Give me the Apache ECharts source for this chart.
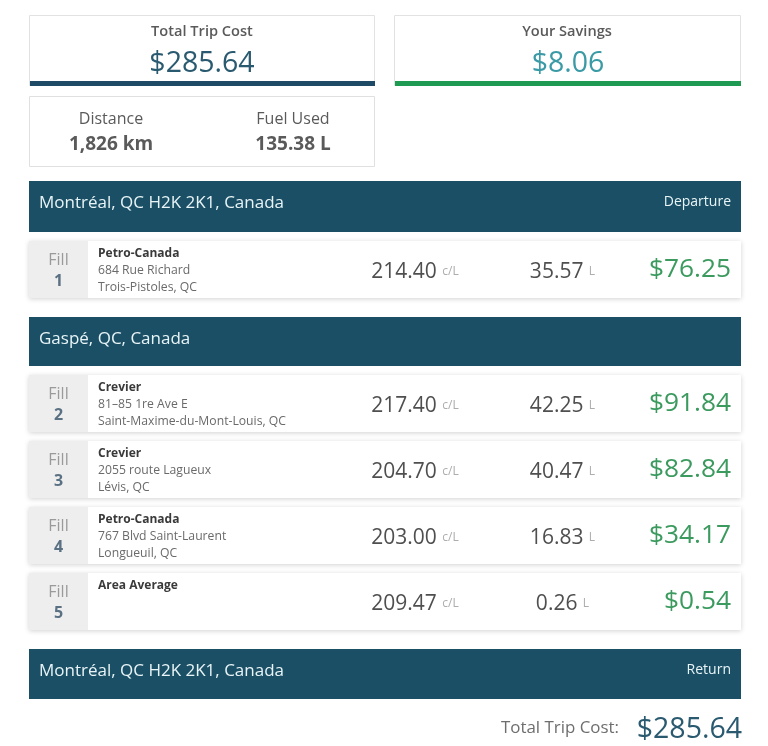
<!DOCTYPE html>
<html>
<head>
<meta charset="utf-8">
<style>html,body{margin:0;padding:0;background:#fff}#trip{width:768px;height:746px}</style>
<script src="https://cdn.jsdelivr.net/npm/echarts@6/dist/echarts.min.js"></script>
</head>
<body>
<div id="trip"></div>
<script>
var totalCost = '$285.64';
var savings = '$8.06';
var distance = '1,826 km';
var fuelUsed = '135.38 L';

var bannerNames = ['Montréal, QC H2K 2K1, Canada', 'Gaspé, QC, Canada', 'Montréal, QC H2K 2K1, Canada'];
var bannerTags = ['Departure', '', 'Return'];

var fillNumbers = ['1', '2', '3', '4', '5'];
var stationNames = ['Petro-Canada', 'Crevier', 'Crevier', 'Petro-Canada', 'Area Average'];
var stationStreets = ['684 Rue Richard', '81–85 1re Ave E', '2055 route Lagueux', '767 Blvd Saint-Laurent', ''];
var stationCities = ['Trois-Pistoles, QC', 'Saint-Maxime-du-Mont-Louis, QC', 'Lévis, QC', 'Longueuil, QC', ''];
var rates = ['214.40', '217.40', '204.70', '203.00', '209.47'];
var litres = ['35.57', '42.25', '40.47', '16.83', '0.26'];
var costs = ['$76.25', '$91.84', '$82.84', '$34.17', '$0.54'];

var bannerTops = [181, 317, 649];
var bannerHeights = [51, 49, 50];
var rowTops = [241, 375, 441, 507, 573];

var FONT = '"Open Sans", sans-serif';
var NAVY = '#1b4f66';
var GREY = '#5a5a5a';
var els = [];

function txt(text, x, y, size, fill, align, weight) {
    els.push({
        type: 'text',
        style: {
            text: text, x: x, y: y,
            fontFamily: FONT, fontSize: size, fontWeight: weight || 'normal',
            fill: fill, align: align || 'left', verticalAlign: 'middle'
        }
    });
}

function box(x, y, w, h, fill, stroke, shadow) {
    var style = { fill: fill };
    if (stroke) {
        style.stroke = stroke;
        style.lineWidth = 1;
    }
    if (shadow) {
        style.shadowBlur = 5;
        style.shadowOffsetY = 1;
        style.shadowColor = 'rgba(0,0,0,0.18)';
    }
    els.push({ type: 'rect', shape: { x: x, y: y, width: w, height: h }, style: style });
}

// valeur + unite, centres ensemble
function withUnit(value, unit, x, y) {
    els.push({
        type: 'text',
        style: {
            text: '{v|' + value + ' }{u|' + unit + '}',
            x: x, y: y, align: 'center', verticalAlign: 'middle',
            fontFamily: FONT,
            rich: {
                v: { fontFamily: FONT, fontSize: 21, fill: '#4f4f4f' },
                u: { fontFamily: FONT, fontSize: 12, fill: '#adadad' }
            }
        }
    });
}

// cartes du haut
box(29.5, 15.5, 345, 70, '#fff', '#e2e2e2');
box(30, 81, 345, 5, '#1f4a66');
txt('Total Trip Cost', 202, 32, 14.6, GREY, 'center', 600);
txt(totalCost, 202, 64, 28.5, '#2a5a70', 'center');

box(394.5, 15.5, 346, 70, '#fff', '#e2e2e2');
box(395, 81, 346, 5, '#1f9a53');
txt('Your Savings', 567, 32, 14.6, GREY, 'center', 600);
txt(savings, 568, 64, 28.5, '#3a9aa5', 'center');

box(29.5, 96.5, 345, 70, '#fff', '#e0e0e0');
txt('Distance', 111, 119, 16, GREY, 'center');
txt(distance, 111, 145, 19, GREY, 'center', 700);
txt('Fuel Used', 293, 119, 16, GREY, 'center');
txt(fuelUsed, 293, 145, 19, GREY, 'center', 700);

// bandeaux
bannerNames.forEach(function (name, i) {
    box(29, bannerTops[i], 712, bannerHeights[i], NAVY);
    txt(name, 39, bannerTops[i] + 22, 17, '#e8f4f6');
    if (bannerTags[i]) {
        txt(bannerTags[i], 731, bannerTops[i] + 21, 14, '#e8f4f6', 'right');
    }
});

// lignes de plein
fillNumbers.forEach(function (num, i) {
    var top = rowTops[i];
    box(29, top, 712, 57, '#fff', null, true);
    box(29, top, 59, 57, '#eeeeee');
    txt('Fill', 58.5, top + 19, 16, '#9a9a9a', 'center');
    txt(num, 58.5, top + 40, 16, '#5a7184', 'center', 700);
    txt(stationNames[i], 98, top + 13, 12, '#3a3a3a', 'left', 700);
    txt(stationStreets[i], 98, top + 30, 12.2, '#6a6a6a');
    txt(stationCities[i], 98, top + 47, 12.2, '#6a6a6a');
    withUnit(rates[i], 'c/L', 415, top + 31);
    withUnit(litres[i], 'L', 562.5, top + 31);
    txt(costs[i], 731, top + 29, 26.3, '#3b9a5e', 'right');
});

// total du bas
txt('Total Trip Cost:', 619, 728, 16.9, '#6e6e6e', 'right');
txt(totalCost, 742, 730, 28.5, '#2a5a70', 'right');

var chart = echarts.init(document.getElementById('trip'));
chart.setOption({
    backgroundColor: '#fff',
    animation: false,
    graphic: { elements: els }
});
</script>
</body>
</html>
